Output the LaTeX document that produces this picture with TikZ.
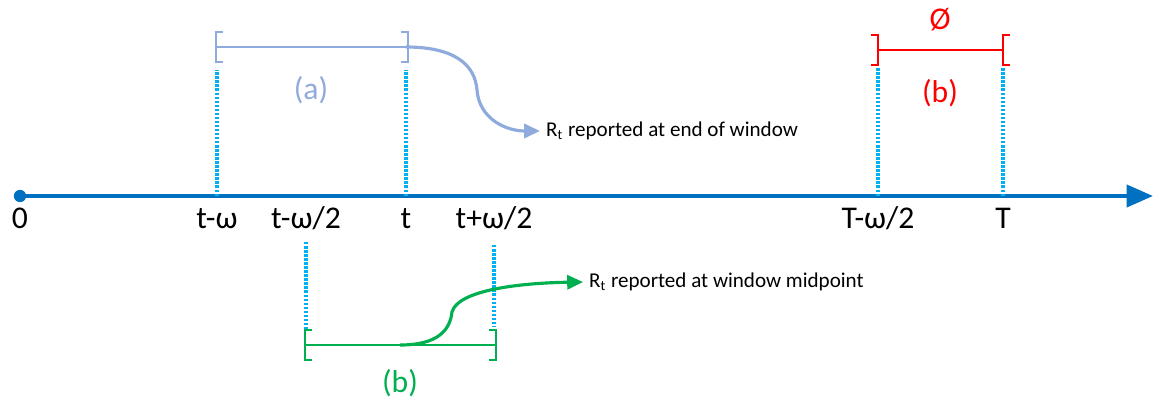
\documentclass[tikz,border=0pt]{standalone}
\usepackage{fontspec}
\setmainfont{Carlito}
\usetikzlibrary{arrows.meta}

\definecolor{axisblue}{HTML}{0070C0}
\definecolor{tickcyan}{HTML}{00B0F0}
\definecolor{winblue}{HTML}{8FAADC}
\definecolor{winred}{HTML}{FF0000}
\definecolor{wingreen}{HTML}{00B050}

\begin{document}
\begin{tikzpicture}[
    x=0.02cm, y=-0.02cm,
    axis/.style={draw=axisblue, line width=2.3pt, -{Triangle[length=15pt, width=12.5pt]}},
    tick/.style={draw=tickcyan, line width=1.8pt, dash pattern=on 1.4pt off 0.9pt},
    axislabel/.style={anchor=base, font=\fontsize{18}{20}\selectfont},
    winlabel/.style={font=\fontsize{18}{20}\selectfont},
    note/.style={anchor=west, font=\fontsize{12}{14}\selectfont},
    bar/.style={line width=1.6pt},
    report/.style={line width=1.8pt, -{Triangle[length=9pt, width=8pt]}},
]
    \useasboundingbox (0,0) rectangle (1156,402);

    % time axis
    \node (origin) [circle, fill=axisblue, inner sep=0pt, minimum size=7pt] at (20,196) {};
    \coordinate (axisend) at (1153,196);
    \draw [axis] (origin.center) -- (axisend);

    % axis labels
    \node (l0)     [axislabel] at (20,228)   {0};
    \node (ltw)    [axislabel] at (217,228)  {t-ω};
    \node (ltw2)   [axislabel] at (306,228)  {t-ω/2};
    \node (lt)     [axislabel] at (406,228)  {t};
    \node (ltpw2)  [axislabel] at (494,228)  {t+ω/2};
    \node (lTw2)   [axislabel] at (878,228)  {T-ω/2};
    \node (lT)     [axislabel] at (1003,228) {T};

    % dotted ticks
    \coordinate (tw)    at (217,196);  \coordinate (twtop)   at (217,70);
    \coordinate (t)     at (406,196);  \coordinate (ttop)    at (406,70);
    \coordinate (Tw2)   at (878,196);  \coordinate (Tw2top)  at (878,68);
    \coordinate (T)     at (1003,196); \coordinate (Ttop)    at (1003,68);
    \coordinate (tw2a)  at (306,242);  \coordinate (tw2b)    at (306,330);
    \coordinate (tpw2a) at (494,245);  \coordinate (tpw2b)   at (494,326);
    \draw [tick] (tw) -- (twtop);
    \draw [tick] (t) -- (ttop);
    \draw [tick] (Tw2) -- (Tw2top);
    \draw [tick] (T) -- (Ttop);
    \draw [tick] (tw2a) -- (tw2b);
    \draw [tick] (tpw2a) -- (tpw2b);

    % (a) window ending at t
    \coordinate (aL) at (217,47);
    \coordinate (aR) at (406,47);
    \draw [bar, winblue] (aL) -- (aR);
    \draw [bar, winblue] (223,32) -- (216,32) -- (216,62) -- (223,62);
    \draw [bar, winblue] (401,32) -- (408,32) -- (408,62) -- (401,62);
    \node (alabel) [winlabel, text=winblue] at (311,90) {(a)};
    \node (anote) [note] at (540,131) {R\textsubscript{t} reported at end of window};
    \draw [report, winblue] (aR) .. controls (455,47) and (475,65) .. (477,90)
        .. controls (479,118) and (505,131) .. (anote.west);

    % (b) empty window at the end
    \coordinate (bL) at (878,50);
    \coordinate (bR) at (1003,50);
    \draw [bar, winred] (bL) -- (bR);
    \draw [bar, winred] (871,35) -- (878,35) -- (878,65) -- (871,65);
    \draw [bar, winred] (1010,35) -- (1003,35) -- (1003,65) -- (1010,65);
    \node (bempty) [winlabel, text=winred] at (940,20) {Ø};
    \node (blabel) [winlabel, text=winred] at (940,93) {(b)};

    % (b) window centred at t
    \coordinate (cL) at (305,345);
    \coordinate (cM) at (400,345);
    \coordinate (cR) at (496,345);
    \draw [bar, wingreen] (cL) -- (cR);
    \draw [bar, wingreen] (312,330) -- (305,330) -- (305,360) -- (312,360);
    \draw [bar, wingreen] (489,330) -- (496,330) -- (496,360) -- (489,360);
    \node (clabel) [winlabel, text=wingreen] at (400,383) {(b)};
    \node (cnote) [note] at (583,282) {R\textsubscript{t} reported at window midpoint};
    \draw [report, wingreen] (cM) .. controls (438,345) and (450,330) .. (452,312)
        .. controls (458,290) and (520,283) .. (cnote.west);

\end{tikzpicture}
\end{document}
